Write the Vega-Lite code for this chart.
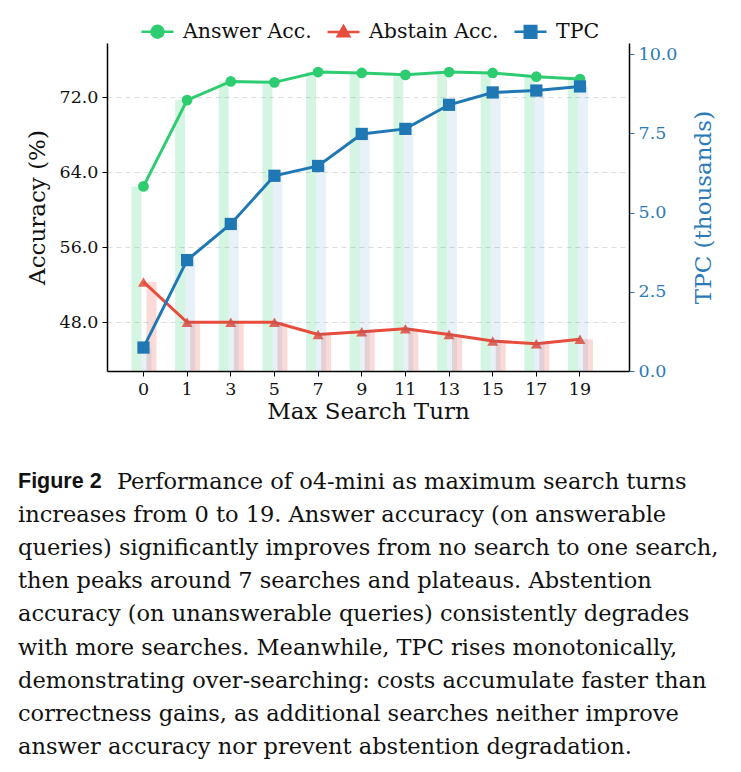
{
  "$schema": "https://vega.github.io/schema/vega-lite/v6.json",
  "width": 522,
  "height": 328,
  "autosize": "none",
  "padding": {"left": 107, "top": 43, "right": 112, "bottom": 401},
  "background": "white",
  "data": {
    "values": [
      {"turn": 0, "answer": 62.5, "abstain": 52.3, "tpc": 0.74},
      {"turn": 1, "answer": 71.7, "abstain": 48.0, "tpc": 3.5},
      {"turn": 3, "answer": 73.7, "abstain": 48.0, "tpc": 4.64},
      {"turn": 5, "answer": 73.6, "abstain": 48.0, "tpc": 6.16},
      {"turn": 7, "answer": 74.7, "abstain": 46.7, "tpc": 6.47},
      {"turn": 9, "answer": 74.6, "abstain": 47.0, "tpc": 7.48},
      {"turn": 11, "answer": 74.4, "abstain": 47.3, "tpc": 7.64},
      {"turn": 13, "answer": 74.7, "abstain": 46.7, "tpc": 8.4},
      {"turn": 15, "answer": 74.6, "abstain": 46.0, "tpc": 8.79},
      {"turn": 17, "answer": 74.2, "abstain": 45.7, "tpc": 8.85},
      {"turn": 19, "answer": 73.95, "abstain": 46.2, "tpc": 8.98}
    ]
  },
  "title": {
    "text": "Figure 2",
    "subtitle": [
      "\u200b\u2003\u2003\u2003\u2003\u2009\u2009Performance of o4-mini as maximum search turns",
      "increases from 0 to 19.  Answer accuracy (on answerable",
      "queries) significantly improves from no search to one search,",
      "then peaks around 7 searches and plateaus.  Abstention",
      "accuracy (on unanswerable queries) consistently degrades",
      "with more searches. Meanwhile, TPC rises monotonically,",
      "demonstrating over-searching: costs accumulate faster than",
      "correctness gains, as additional searches neither improve",
      "answer accuracy nor prevent abstention degradation."
    ],
    "orient": "bottom",
    "anchor": "start",
    "frame": "group",
    "dx": -89,
    "offset": 47,
    "font": "Liberation Sans",
    "fontWeight": "bold",
    "fontSize": 21.5,
    "color": "#111111",
    "subtitleFont": "DejaVu Serif",
    "subtitleFontSize": 22.5,
    "subtitleColor": "#111111",
    "subtitleLineHeight": 33.2,
    "subtitlePadding": -21.5
  },
  "encoding": {
    "x": {
      "field": "turn",
      "type": "ordinal",
      "scale": {"paddingInner": 0, "paddingOuter": 0.479, "align": 0.35},
      "axis": {
        "title": "Max Search Turn",
        "labelAngle": 0,
        "bandPosition": 0.5,
        "labelFontSize": 17.5,
        "titleFontSize": 23,
        "titlePadding": 3,
        "labelPadding": 4
      }
    }
  },
  "layer": [
    {
      "layer": [
        {
          "mark": {"type": "bar", "width": 10, "xOffset": -7, "color": "#2ecc71", "opacity": 0.2, "clip": true},
          "encoding": {
            "y": {
              "field": "answer",
              "type": "quantitative",
              "title": "Accuracy (%)",
              "scale": {"domain": [42.8, 77.8], "zero": false, "nice": false},
              "axis": {
                "values": [48, 56, 64, 72],
                "format": ".1f",
                "grid": true,
                "gridDash": [5, 4],
                "gridColor": "#dddddd",
                "gridWidth": 1,
                "labelFontSize": 17.5,
                "titleFontSize": 23,
                "titlePadding": 10
              }
            }
          }
        },
        {
          "mark": {"type": "bar", "width": 10, "xOffset": 8, "color": "#e74c3c", "opacity": 0.2, "clip": true},
          "encoding": {"y": {"field": "abstain", "type": "quantitative", "title": "Accuracy (%)"}}
        },
        {
          "mark": {"type": "line", "strokeWidth": 3},
          "encoding": {
            "y": {"field": "answer", "type": "quantitative", "title": "Accuracy (%)"},
            "color": {
              "datum": "Answer Acc.",
              "scale": {
                "domain": ["Answer Acc.", "Abstain Acc.", "TPC"],
                "range": ["#2ecc71", "#e74c3c", "#1f77b4"]
              },
              "legend": {
                "orient": "none",
                "legendX": 33,
                "legendY": -29,
                "direction": "horizontal",
                "title": null,
                "labelFont": "DejaVu Serif",
                "labelFontSize": 20.5,
                "labelColor": "#111111",
                "labelOffset": 8,
                "columnPadding": 10,
                "symbolSize": 1024,
                "encode": {
                  "symbols": {
                    "update": {
                      "shape": {"signal": "datum.value === 'Answer Acc.' ? 'M-1,0H1M0.37,0A0.37,0.37 0 1 1 -0.37,0A0.37,0.37 0 1 1 0.37,0Z' : datum.value === 'Abstain Acc.' ? 'M-1,0H1M0,-0.36L0.36,0.26L-0.36,0.26Z' : 'M-1,0H1M-0.36,-0.36H0.36V0.36H-0.36Z'"},
                      "fill": {"signal": "scale('color', datum.value)"},
                      "stroke": {"signal": "scale('color', datum.value)"},
                      "strokeWidth": {"value": 2.5},
                      "size": {"value": 1024},
                      "opacity": {"value": 1}
                    }
                  }
                }
              }
            }
          }
        },
        {
          "mark": {"type": "point", "shape": "circle", "filled": true, "size": 115, "opacity": 1},
          "encoding": {
            "y": {"field": "answer", "type": "quantitative", "title": "Accuracy (%)"},
            "color": {"datum": "Answer Acc."}
          }
        },
        {
          "mark": {"type": "line", "strokeWidth": 3},
          "encoding": {
            "y": {"field": "abstain", "type": "quantitative", "title": "Accuracy (%)"},
            "color": {"datum": "Abstain Acc."}
          }
        },
        {
          "mark": {"type": "point", "shape": "triangle-up", "filled": true, "size": 120, "opacity": 0.85},
          "encoding": {
            "y": {"field": "abstain", "type": "quantitative", "title": "Accuracy (%)"},
            "color": {"datum": "Abstain Acc."}
          }
        }
      ]
    },
    {
      "layer": [
        {
          "mark": {"type": "bar", "width": 10, "xOffset": 3, "color": "#1f77b4", "opacity": 0.1, "clip": true},
          "encoding": {
            "y": {
              "field": "tpc",
              "type": "quantitative",
              "title": "TPC (thousands)",
              "scale": {"domain": [0, 10.35], "nice": false},
              "axis": {
                "orient": "right",
                "values": [0, 2.5, 5, 7.5, 10],
                "format": ".1f",
                "grid": false,
                "labelColor": "#2a7ab8",
                "tickColor": "#2a7ab8",
                "titleColor": "#2a7ab8",
                "labelFontSize": 17.5,
                "titleFontSize": 23,
                "titleAngle": -90,
                "titlePadding": 39
              }
            }
          }
        },
        {
          "mark": {"type": "line", "strokeWidth": 3},
          "encoding": {
            "y": {"field": "tpc", "type": "quantitative", "title": "TPC (thousands)"},
            "color": {"datum": "TPC"}
          }
        },
        {
          "mark": {"type": "point", "shape": "square", "filled": true, "size": 150, "opacity": 1},
          "encoding": {
            "y": {"field": "tpc", "type": "quantitative", "title": "TPC (thousands)"},
            "color": {"datum": "TPC"}
          }
        }
      ]
    }
  ],
  "resolve": {"scale": {"y": "independent"}},
  "config": {
    "font": "DejaVu Serif",
    "view": {"stroke": null},
    "axis": {
      "labelFont": "DejaVu Serif",
      "titleFont": "DejaVu Serif",
      "labelColor": "#111111",
      "titleColor": "#111111",
      "titleFontWeight": "normal",
      "domainColor": "#000000",
      "domainWidth": 1.5,
      "tickColor": "#000000",
      "tickWidth": 1,
      "tickSize": 5,
      "labelPadding": 4,
      "grid": false
    }
  }
}
